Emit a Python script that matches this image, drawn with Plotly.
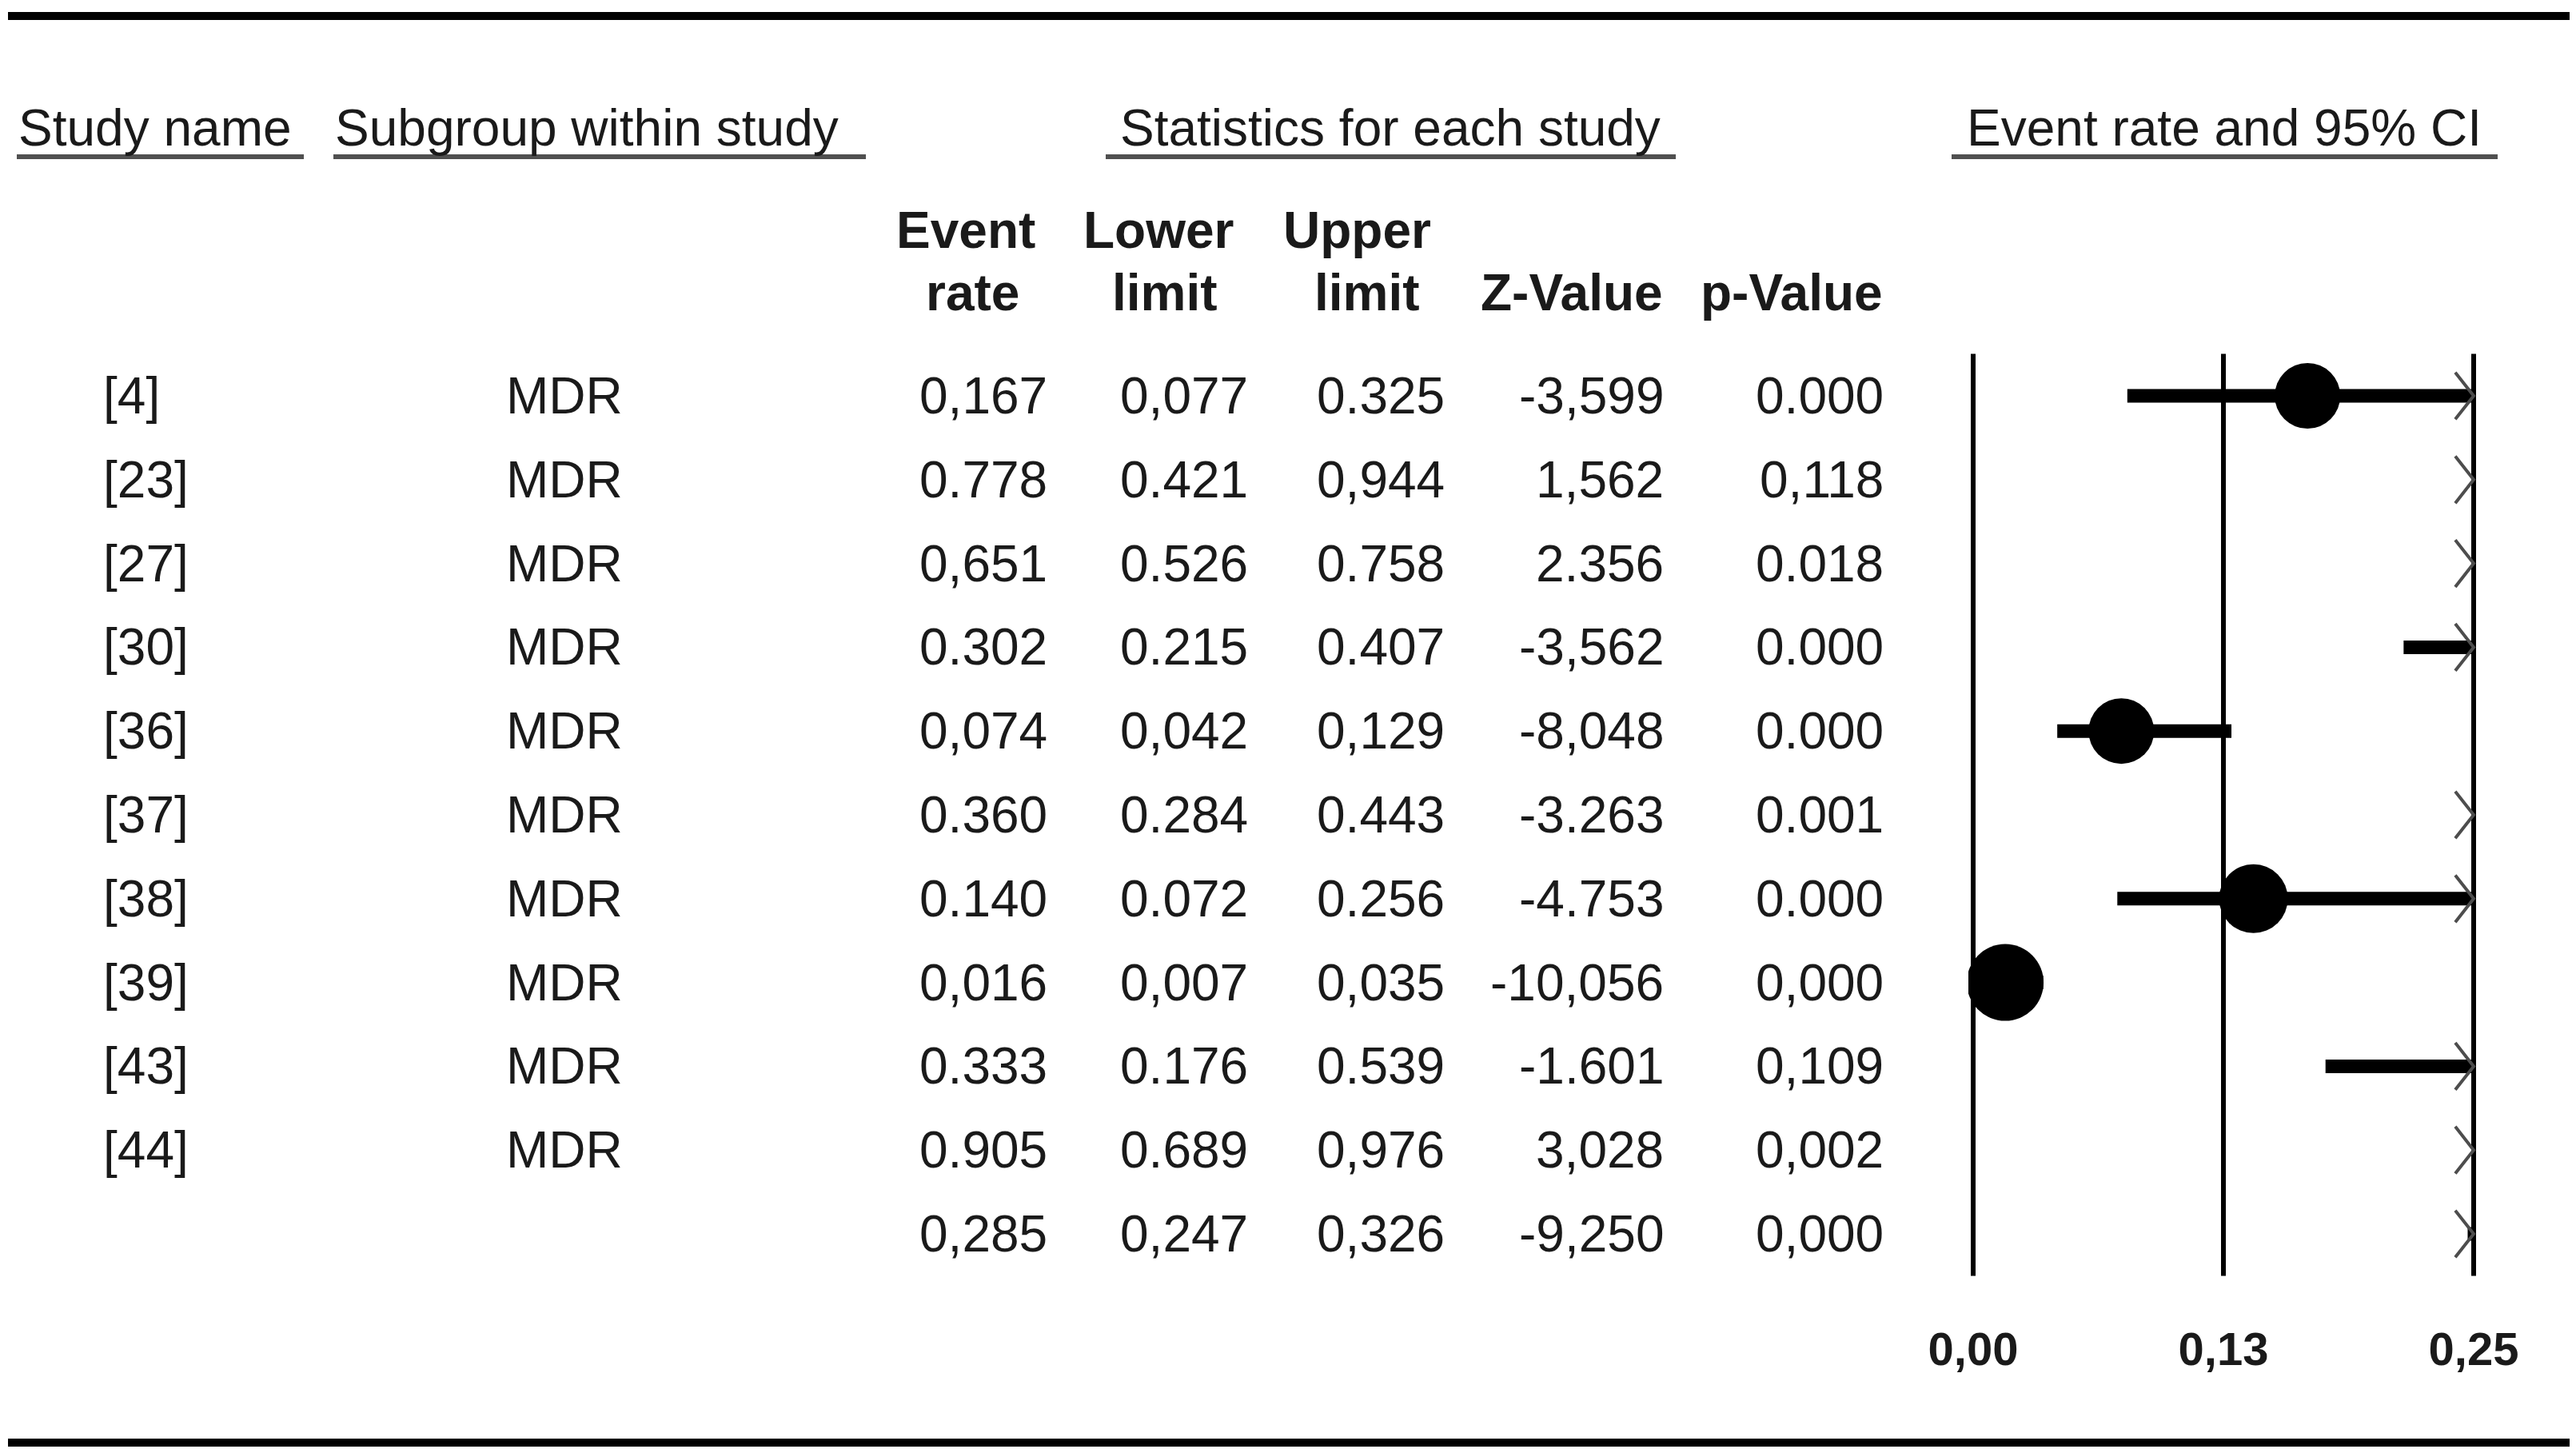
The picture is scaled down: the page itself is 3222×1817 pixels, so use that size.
import plotly.graph_objects as go

W, H = 3222, 1817          # browser window
BODY = 8                   # default page margin around the plot div
FW, FH = W - 2 * BODY, H - 2 * BODY

# ---------------- data ----------------
study_names = ["[4]", "[23]", "[27]", "[30]", "[36]", "[37]", "[38]", "[39]", "[43]", "[44]", ""]
subgroups = ["MDR"] * 10 + [""]
event_rate_txt = ["0,167", "0.778", "0,651", "0.302", "0,074", "0.360", "0.140", "0,016", "0.333", "0.905", "0,285"]
lower_txt = ["0,077", "0.421", "0.526", "0.215", "0,042", "0.284", "0.072", "0,007", "0.176", "0.689", "0,247"]
upper_txt = ["0.325", "0,944", "0.758", "0.407", "0,129", "0.443", "0.256", "0,035", "0.539", "0,976", "0,326"]
z_txt = ["-3,599", "1,562", "2.356", "-3,562", "-8,048", "-3.263", "-4.753", "-10,056", "-1.601", "3,028", "-9,250"]
p_txt = ["0.000", "0,118", "0.018", "0.000", "0.000", "0.001", "0.000", "0,000", "0,109", "0,002", "0,000"]
# relative weight (marker size) of each study's point estimate
marker_px = [82, 84, 84, 84, 82, 84, 86, 96, 84, 84]

tick_vals = [0.0, 0.125, 0.25]
tick_text = ["0,00", "0,13", "0,25"]
X_MIN, X_MAX = 0.0, 0.25


def num(s):
    return float(s.replace(",", "."))


event_rate = [num(s) for s in event_rate_txt]
lower = [num(s) for s in lower_txt]
upper = [num(s) for s in upper_txt]
rows = list(range(len(study_names)))
n_study = 10

# ---------------- layout helpers (page pixel -> paper) ----------------
ROW0_PX, ROW_STEP_PX = 495.0, 104.8
y_top = (BODY - ROW0_PX) / ROW_STEP_PX
y_bot = (BODY + FH - ROW0_PX) / ROW_STEP_PX

# plot area: X_MIN at page x 2468, X_MAX at page x 3094, with a few px of slack
X0_PX, X1_PX, SLACK_PX = 2468, 3094, 6
unit_px = (X1_PX - X0_PX) / (X_MAX - X_MIN)
slack = SLACK_PX / unit_px


def px(x):
    return (x - BODY) / FW


def py(y):
    return 1 - (y - BODY) / FH


FONT = "Liberation Sans, Arial, sans-serif"
TXT = "#1a1a1a"
FS = 64

fig = go.Figure()

# vertical reference lines at the tick values
vx, vy = [], []
for v in tick_vals:
    vx += [v, v, None]
    vy += [-0.5, len(rows) - 0.5, None]
fig.add_trace(go.Scatter(x=vx, y=vy, mode="lines", line=dict(color="black", width=6),
                         hoverinfo="skip", showlegend=False))

# CI lines, truncated at the axis limits
for i in rows:
    lo, hi = max(lower[i], X_MIN), min(upper[i], X_MAX)
    if lo < hi:
        fig.add_trace(go.Scatter(
            x=[lo, hi], y=[i, i], mode="lines",
            line=dict(color="black", width=17),
            hoverinfo="skip", showlegend=False))

# point estimates (only individual studies)
fig.add_trace(go.Scatter(
    x=event_rate[:n_study], y=rows[:n_study], mode="markers",
    marker=dict(symbol="circle", size=marker_px, color="black", opacity=1, line=dict(width=0)),
    cliponaxis=True, hoverinfo="skip", showlegend=False))

# chevrons where CI goes beyond the axis maximum
ax, ay = [], []
dx, dy = 0.0092, 0.28
for i in rows:
    if upper[i] > X_MAX:
        ax += [X_MAX - dx, X_MAX, X_MAX - dx, None]
        ay += [i - dy, i, i + dy, None]
fig.add_trace(go.Scatter(
    x=ax, y=ay, mode="lines", line=dict(color="#4d4d4d", width=4),
    hoverinfo="skip", showlegend=False))

shapes = []
# top / bottom rules
shapes.append(dict(type="line", xref="paper", yref="paper", x0=px(10), x1=1,
                   y0=py(20), y1=py(20), line=dict(color="black", width=10)))
shapes.append(dict(type="line", xref="paper", yref="paper", x0=px(10), x1=1,
                   y0=py(1804), y1=py(1804), line=dict(color="black", width=10)))
# header underlines
for x0, x1 in [(21, 380), (417, 1083), (1383, 2096), (2441, 3124)]:
    shapes.append(dict(type="line", xref="paper", yref="paper", x0=px(x0), x1=px(x1),
                       y0=py(196), y1=py(196), line=dict(color="#505050", width=6)))

ann = []


def add_text(text, x, y, anchor="left", yref="paper", bold=False, size=FS):
    ann.append(dict(text=("<b>%s</b>" % text) if bold else text,
                    x=x, y=y, xref="paper", yref=yref, xanchor=anchor, yanchor="middle",
                    showarrow=False, font=dict(family=FONT, size=size, color=TXT)))


# header row 1
add_text("Study name", px(21), py(160))
add_text("Subgroup within study", px(417), py(160))
add_text("Statistics for each study", px(1739), py(160), anchor="center")
add_text("Event rate and 95% CI", px(2782), py(160), anchor="center")

# header row 2 (bold)
add_text("Event", px(1208), py(288), anchor="center", bold=True)
add_text("rate", px(1216), py(366), anchor="center", bold=True)
add_text("Lower", px(1449), py(288), anchor="center", bold=True)
add_text("limit", px(1457), py(366), anchor="center", bold=True)
add_text("Upper", px(1697), py(288), anchor="center", bold=True)
add_text("limit", px(1710), py(366), anchor="center", bold=True)
add_text("Z-Value", px(2082), py(366), anchor="right", bold=True)
add_text("p-Value", px(2357), py(366), anchor="right", bold=True)

# body rows
col_right = [1312, 1563, 1809, 2083, 2358]
for i in rows:
    add_text(study_names[i], px(127), i, yref="y")
    add_text(subgroups[i], px(631), i, yref="y")
    for cx, col in zip(col_right, [event_rate_txt, lower_txt, upper_txt, z_txt, p_txt]):
        add_text(col[i], px(cx), i, anchor="right", yref="y")

fig.update_layout(
    template="none",
    autosize=False,
    width=FW, height=FH,
    margin=dict(l=0, r=0, t=0, b=0, pad=0, autoexpand=False),
    paper_bgcolor="white", plot_bgcolor="white",
    shapes=shapes, annotations=ann,
    xaxis=dict(domain=[px(X0_PX - SLACK_PX), px(X1_PX + SLACK_PX)],
               range=[X_MIN - slack, X_MAX + slack],
               tickvals=tick_vals, ticktext=["<b>%s</b>" % t for t in tick_text],
               tickfont=dict(family=FONT, size=58, color=TXT),
               showgrid=False, zeroline=False, showline=False, ticks="",
               automargin=False, anchor="free", position=py(1648)),
    yaxis=dict(range=[y_bot, y_top], visible=False, showgrid=False, zeroline=False,
               automargin=False),
)

fig.write_html("out.html", config={"responsive": False, "displayModeBar": False})
